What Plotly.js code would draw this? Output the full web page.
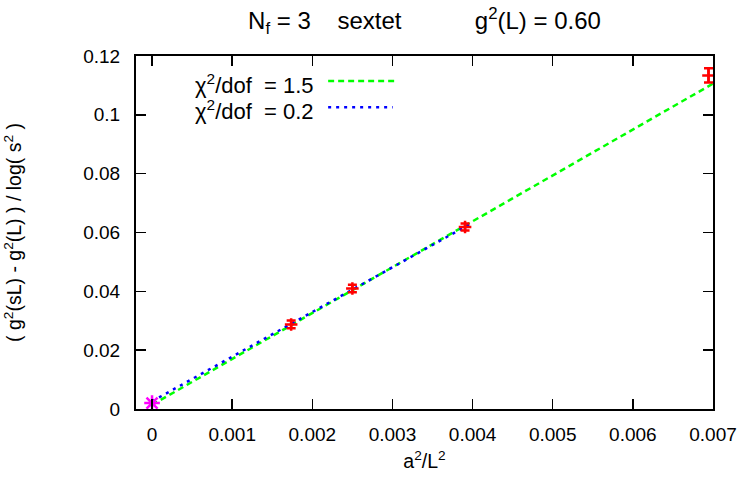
<!DOCTYPE html>
<html>
<head>
<meta charset="utf-8">
<script src="https://cdn.plot.ly/plotly-3.0.1.min.js"></script>
<style>html,body{margin:0;padding:0;background:#fff;}#chart{width:749px;height:486px;}</style>
</head>
<body>
<div id="chart"></div>
<script>
// measured data (a^2/L^2 vs. discrete beta-function)
var xData = [0.001736, 0.0025, 0.003906, 0.006944];
var yData = [0.02875, 0.04095, 0.06185, 0.1134];
var yErr = [0.0013, 0.0013, 0.0012, 0.0024];

// continuum extrapolated value
var xCont = [0];
var yCont = [0.0020];

// fit lines
var xFit1 = [0, 0.007];
var yFit1 = [0.0014, 0.1106];
var xFit2 = [0, 0.00397];
var yFit2 = [0.0026, 0.0629];

var xTicks = [0, 0.001, 0.002, 0.003, 0.004, 0.005, 0.006, 0.007];
var xTickText = ['0', '0.001', '0.002', '0.003', '0.004', '0.005', '0.006', '0.007'];
var yTicks = [0, 0.02, 0.04, 0.06, 0.08, 0.1, 0.12];
var yTickText = ['0', '0.02', '0.04', '0.06', '0.08', '0.1', '0.12'];

var FONT = 'Liberation Sans, Arial, Helvetica, sans-serif';
var NB = '\u00A0';
function sp(n){ return new Array(n+1).join(NB); }

var legendLabels = ['\u03C7<sup>2</sup>/dof' + sp(2) + '= 1.5', '\u03C7<sup>2</sup>/dof' + sp(2) + '= 0.2'];

var traces = [
  {x: xFit1, y: yFit1, mode: 'lines', line: {color: '#00ff00', width: 2.5, dash: '6px,4px'}, hoverinfo: 'skip'},
  {x: xFit2, y: yFit2, mode: 'lines', line: {color: '#0000ff', width: 2.5, dash: '3px,5px'}, hoverinfo: 'skip'},
  {x: xData, y: yData, mode: 'markers',
   marker: {symbol: 'cross-thin-open', size: 9, color: '#ff0000', line: {color: '#ff0000', width: 2.5}},
   error_y: {type: 'data', array: yErr, visible: true, color: '#ff0000', thickness: 2.5, width: 4.5}},
  {x: xCont, y: yCont, mode: 'markers',
   marker: {symbol: 'asterisk-open', size: 13, color: '#ff00ff', line: {color: '#ff00ff', width: 2.5}}}
];

var axisCommon = {
  showline: true, linecolor: '#000', linewidth: 2, mirror: 'allticks',
  ticks: 'inside', ticklen: 10, tickwidth: 1.5, tickcolor: '#000',
  showgrid: false, zeroline: false,
  tickfont: {family: FONT, size: 19, color: '#000'}
};

var layout = {
  width: 749, height: 486,
  margin: {l: 136, r: 36, t: 56, b: 77},
  paper_bgcolor: '#fff', plot_bgcolor: '#fff',
  showlegend: false,
  font: {family: FONT, size: 19, color: '#000'},
  title: {
    text: 'N<sub>f</sub> = 3' + sp(4) + 'sextet' + sp(11) + 'g<sup>2</sup>(L) = 0.60',
    font: {family: FONT, size: 24, color: '#000'},
    x: 0.5, xref: 'paper', y: 1 - 21/486, yref: 'container', yanchor: 'middle'
  },
  xaxis: Object.assign({}, axisCommon, {
    range: [-0.0002, 0.007], tickvals: xTicks, ticktext: xTickText,
    ticklabelstandoff: 7,
    title: {text: 'a<sup>2</sup>/L<sup>2</sup>', font: {family: FONT, size: 19.5, color: '#000'}, standoff: 11}
  }),
  yaxis: Object.assign({}, axisCommon, {
    range: [0, 0.12], tickvals: yTicks, ticktext: yTickText,
    ticklabelstandoff: 10,
    title: {text: '( g<sup>2</sup>(sL) - g<sup>2</sup>(L) ) / log( s<sup>2</sup> )', font: {family: FONT, size: 19.5, color: '#000'}, standoff: 56}
  }),
  annotations: [
    {xref: 'paper', yref: 'paper', x: 0.312, y: 0.92, xanchor: 'right', yanchor: 'middle',
     text: legendLabels[0], showarrow: false, font: {family: FONT, size: 22, color: '#000'}},
    {xref: 'paper', yref: 'paper', x: 0.312, y: 0.848, xanchor: 'right', yanchor: 'middle',
     text: legendLabels[1], showarrow: false, font: {family: FONT, size: 22, color: '#000'}}
  ],
  shapes: [
    {type: 'line', xref: 'paper', yref: 'paper', x0: 0.333, x1: 0.452, y0: 0.929, y1: 0.929,
     line: {color: '#00ff00', width: 2.5, dash: '6px,4px'}},
    {type: 'line', xref: 'paper', yref: 'paper', x0: 0.333, x1: 0.445, y0: 0.855, y1: 0.855,
     line: {color: '#0000ff', width: 2.5, dash: '3px,5px'}}
  ]
};

Plotly.newPlot('chart', traces, layout, {displayModeBar: false, staticPlot: true});
</script>
</body>
</html>
